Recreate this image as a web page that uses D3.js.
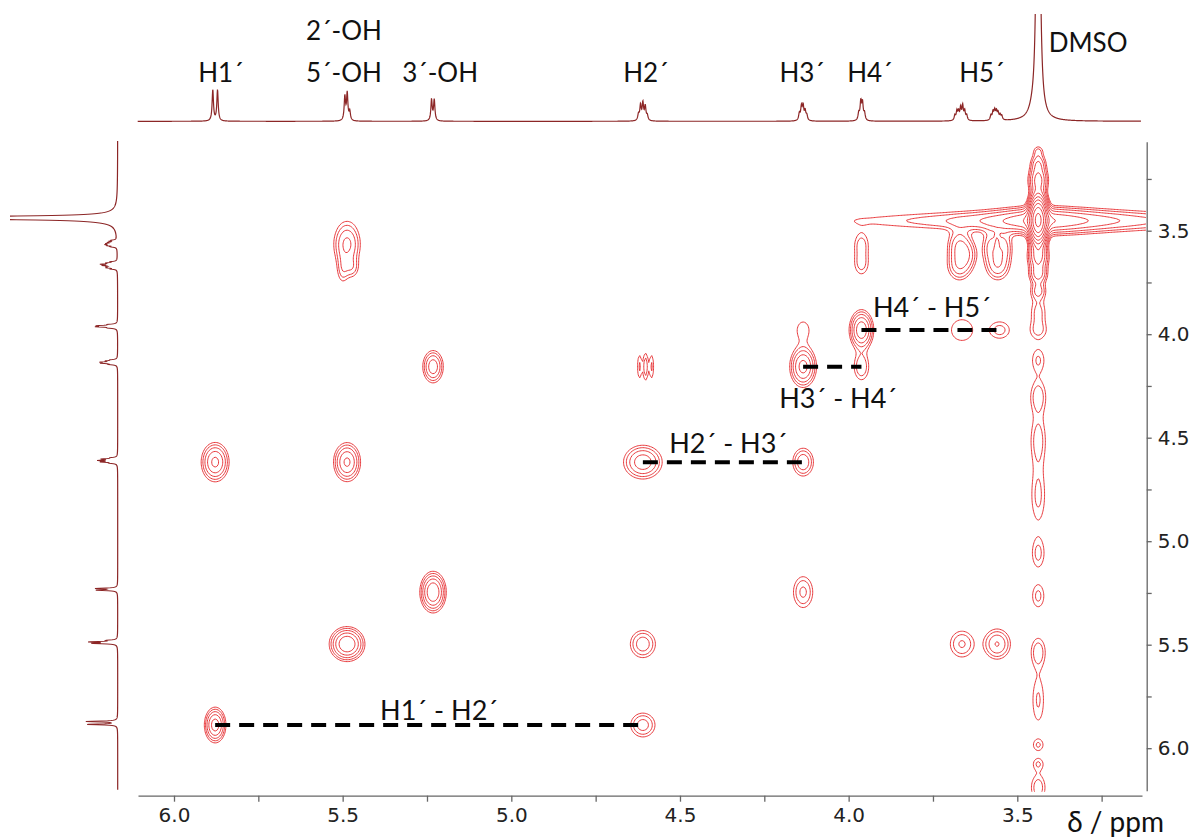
<!DOCTYPE html>
<html><head><meta charset="utf-8">
<script src="https://cdn.jsdelivr.net/npm/d3@7"></script>
<style>body{margin:0;background:#fff}svg{display:block}</style>
</head><body>
<svg id="c" width="1195" height="839"></svg>
<script>
// ---------------- DATA ----------------
const xMajor = [6.0, 5.5, 5.0, 4.5, 4.0, 3.5];
const xMinor = [5.75, 5.25, 4.75, 4.25, 3.75, 3.25];
const yMajor = [3.5, 4.0, 4.5, 5.0, 5.5, 6.0];
const yMinor = [3.25, 3.75, 4.25, 4.75, 5.25, 5.75];
const axisTitle = "δ / ppm";

// 1D spectrum lines: shift (ppm), height (relative), half-width (ppm)
const lineShift = [5.885, 5.871,
  5.4935, 5.4865, 5.479,
  5.2365, 5.2285,
  4.623, 4.617, 4.610, 4.603, 4.597,
  4.146, 4.140, 4.135, 4.129, 4.124,
  3.970, 3.964, 3.959, 3.953,
  3.685, 3.679, 3.674, 3.668, 3.662, 3.656, 3.650,
  3.578, 3.572, 3.567, 3.562, 3.557, 3.551, 3.546,
  3.438, 3.455];
const lineHeight = [31, 31,
  24, 27, 9,
  21, 21,
  6, 15, 17, 14, 5,
  7, 13, 14, 9, 5,
  7, 18, 17, 7,
  5, 9, 8, 12, 14, 9, 5,
  5, 8, 9, 8, 7, 5, 4,
  800, 5];
const lineWidth = [0.0024, 0.0024,
  0.0024, 0.0024, 0.0024,
  0.0024, 0.0024,
  0.0025, 0.0025, 0.0025, 0.0025, 0.0025,
  0.0025, 0.0025, 0.0025, 0.0025, 0.0025,
  0.0025, 0.0025, 0.0025, 0.0025,
  0.0024, 0.0024, 0.0024, 0.0024, 0.0024, 0.0024, 0.0024,
  0.0024, 0.0024, 0.0024, 0.0024, 0.0024, 0.0024, 0.0024,
  0.0034, 0.012];

// 1D peak labels
const peakLabel = ["H1´", "5´-OH", "2´-OH", "3´-OH", "H2´", "H3´", "H4´", "H5´", "DMSO"];
const peakLabelPpm = [5.861, 5.496, 5.496, 5.211, 4.601, 4.138, 3.937, 3.605, 3.290];
const peakLabelRow = [0, 0, 1, 0, 0, 0, 0, 0, 2];

// 2D cross peaks: F2 (ppm), F1 (ppm), intensity, width F2, width F1 (ppm), doublet splitting (ppm)
const crossX = [5.878, 4.610, 5.487, 4.610, 3.664, 3.560, 5.232, 4.135, 5.878, 5.487, 4.610, 4.135,
  5.232, 4.620, 4.602, 4.584, 4.135, 3.962, 4.135, 3.962, 3.664, 3.552, 3.438,
  5.487, 5.500, 5.472, 3.962, 3.962, 3.672, 3.672, 3.645, 3.578, 3.540, 3.558, 3.560,
  3.438, 3.438, 3.438, 3.438, 3.438, 3.438, 3.438, 3.438, 3.438, 3.438, 3.438,
  3.438, 3.438, 3.438, 3.438, 3.438, 3.438, 3.438, 3.438];
const crossY = [5.888, 5.888, 5.497, 5.497, 5.497, 5.497, 5.246, 5.246, 4.618, 4.618, 4.618, 4.618,
  4.157, 4.157, 4.157, 4.157, 4.157, 4.157, 3.980, 3.980, 3.980, 3.980, 3.985,
  3.565, 3.690, 3.680, 3.565, 3.660, 3.575, 3.670, 3.615, 3.580, 3.580, 3.670, 3.550,
  3.448, 3.255, 3.175, 3.115, 3.625, 3.710, 3.790, 3.894, 4.125, 4.300, 4.510,
  4.780, 5.060, 5.265, 5.535, 5.767, 5.985, 6.075, 6.190];
const crossAmp = [7, 2.8, 8, 3.0, 2.4, 3.5, 8, 2.5, 6, 6, 4.5, 3.2,
  4.5, 1.6, 2.0, 1.6, 6, 2.2, 1.35, 7, 1.45, 1.8, 1.4,
  3.8, 1.6, 1.6, 1.8, 1.8, 3.5, 3.0, 2.0, 2.6, 2.6, 3.0, 1.5,
  60, 6, 3, 1.5, 6, 4, 2.5, 1.8, 1.6, 2.0, 1.9,
  1.7, 1.7, 1.7, 2.0, 1.6, 1.5, 1.5, 2.0];
const crossWx = [0.0150, 0.0250, 0.0250, 0.0250, 0.0260, 0.0250, 0.0185, 0.0210, 0.0210, 0.0200, 0.0330, 0.0200,
  0.0175, 0.0058, 0.0058, 0.0058, 0.0210, 0.0170, 0.0220, 0.0185, 0.0360, 0.0260, 0.0220,
  0.0240, 0.0120, 0.0140, 0.0170, 0.0170, 0.0210, 0.0220, 0.0170, 0.0170, 0.0170, 0.0220, 0.0044,
  0.0135, 0.0160, 0.0140, 0.0110, 0.0170, 0.0160, 0.0150, 0.0180, 0.0170, 0.0180, 0.0180,
  0.0180, 0.0160, 0.0160, 0.0170, 0.0160, 0.0140, 0.0140, 0.0170];
const crossWy = [0.045, 0.040, 0.042, 0.044, 0.047, 0.046, 0.050, 0.055, 0.051, 0.051, 0.047, 0.044,
  0.045, 0.055, 0.055, 0.055, 0.053, 0.050, 0.050, 0.050, 0.058, 0.036, 0.034,
  0.065, 0.048, 0.034, 0.044, 0.044, 0.050, 0.045, 0.045, 0.050, 0.050, 0.045, 0.029,
  0.060, 0.040, 0.030, 0.020, 0.040, 0.030, 0.028, 0.055, 0.050, 0.060, 0.090,
  0.110, 0.060, 0.050, 0.055, 0.100, 0.025, 0.025, 0.050];
const crossJ = [0.014, 0, 0.016, 0, 0, 0, 0.012, 0, 0.014, 0.016, 0, 0,
  0, 0, 0, 0, 0, 0, 0, 0, 0, 0, 0,
  0, 0, 0, 0, 0, 0, 0, 0, 0, 0, 0, 0,
  0, 0, 0, 0, 0, 0, 0, 0, 0, 0, 0,
  0, 0, 0, 0, 0, 0, 0, 0];

// solvent t1 ridge (horizontal): centre, intensity, left/right half-width (ppm), F1 width (ppm)
const ridgeX = [3.44, 3.44];
const ridgeY = [3.452, 3.452];
const ridgeAmp = [2.2, 6];
const ridgeGL = [0.40, 0.10];
const ridgeGR = [0.40, 0.16];
const ridgeWy = [0.029, 0.0386];

const levels = [1, 1.5, 2.25, 3.4, 5.1, 7.6, 11.4, 17, 25.6, 38, 57];

// COSY connectivities
const linkFrom = [5.878, 4.610, 4.135, 3.962];
const linkTo = [4.610, 4.135, 3.962, 3.552];
const linkY = [5.888, 4.618, 4.157, 3.980];
const linkLabel = ["H1´ - H2´", "H2´ - H3´", "H3´ - H4´", "H4´ - H5´"];
const linkLabelX = [5.389, 4.532, 4.206, 3.928];
const linkLabelY = [5.864, 4.572, 4.355, 3.915];

// ---------------- DRAW ----------------
const svg = d3.select("#c");
const x = d3.scaleLinear().domain([6.0, 3.5]).range([174, 1017.3]);
const y = d3.scaleLinear().domain([3.5, 6.0]).range([230.7, 748.2]);
const P = {l: 138, r: 1142, t: 141.7, b: 795.7};
const red = "#e8393c", dark = "#8c2626";

const defs = svg.append("defs");
defs.append("clipPath").attr("id", "plotclip").append("rect")
  .attr("x", P.l).attr("y", P.t).attr("width", P.r - P.l + 4).attr("height", P.b - P.t - 4);
defs.append("clipPath").attr("id", "topclip").append("rect")
  .attr("x", 0).attr("y", 14).attr("width", 1195).attr("height", 200);
defs.append("clipPath").attr("id", "leftclip").append("rect")
  .attr("x", 10).attr("y", 0).attr("width", 200).attr("height", 839);

// ---- contour field ----
const gs = 1.5, gx0 = 126, gy0 = 128;
const nx = Math.ceil((1156 - gx0) / gs), ny = Math.ceil((810 - gy0) / gs);
const vals = new Float64Array(nx * ny);
function addGauss(cx, cy, a, sx, sy) {
  const i0 = Math.max(0, Math.floor((cx - 4.5 * sx - gx0) / gs));
  const i1 = Math.min(nx - 1, Math.ceil((cx + 4.5 * sx - gx0) / gs));
  const j0 = Math.max(0, Math.floor((cy - 4.5 * sy - gy0) / gs));
  const j1 = Math.min(ny - 1, Math.ceil((cy + 4.5 * sy - gy0) / gs));
  for (let j = j0; j <= j1; j++) {
    const py = gy0 + (j + 0.5) * gs;
    const ey = ((py - cy) / sy) ** 2 / 2;
    for (let i = i0; i <= i1; i++) {
      const px = gx0 + (i + 0.5) * gs;
      vals[j * nx + i] += a * Math.exp(-(((px - cx) / sx) ** 2) / 2 - ey);
    }
  }
}
crossX.forEach((cx, k) => {
  const sx = Math.abs(x(cx + crossWx[k]) - x(cx));
  const sy = Math.abs(y(crossY[k] + crossWy[k]) - y(crossY[k]));
  const cy = y(crossY[k]);
  if (crossJ[k] > 0) {
    addGauss(x(cx + crossJ[k] / 2), cy, crossAmp[k] / 2, sx, sy);
    addGauss(x(cx - crossJ[k] / 2), cy, crossAmp[k] / 2, sx, sy);
  } else addGauss(x(cx), cy, crossAmp[k], sx, sy);
});
ridgeX.forEach((rx, k) => {
  const cx = x(rx), cy = y(ridgeY[k]);
  const gL = Math.abs(x(rx + ridgeGL[k]) - cx), gR = Math.abs(x(rx - ridgeGR[k]) - cx);
  const sy = Math.abs(y(ridgeY[k] + ridgeWy[k]) - cy);
  const j0 = Math.max(0, Math.floor((cy - 4.5 * sy - gy0) / gs));
  const j1 = Math.min(ny - 1, Math.ceil((cy + 4.5 * sy - gy0) / gs));
  for (let j = j0; j <= j1; j++) {
    const py = gy0 + (j + 0.5) * gs;
    const gy = Math.exp(-(((py - cy) / sy) ** 2) / 2);
    for (let i = 0; i < nx; i++) {
      const px = gx0 + (i + 0.5) * gs;
      const g = px < cx ? gL : gR;
      vals[j * nx + i] += ridgeAmp[k] * gy / (1 + ((px - cx) / g) ** 2);
    }
  }
});
const cont = d3.contours().size([nx, ny]).thresholds(levels)(Array.from(vals));
const cpath = d3.geoPath(d3.geoIdentity().scale(gs).translate([gx0, gy0]));
svg.append("g").attr("clip-path", "url(#plotclip)")
  .selectAll("path").data(cont).join("path")
  .attr("d", cpath).attr("fill", "none").attr("stroke", red).attr("stroke-width", 1)
  .attr("stroke-linejoin", "round");

// ---- 1D spectra ----
function spec(d) {
  let s = 0;
  for (let i = 0; i < lineShift.length; i++) {
    const u = (d - lineShift[i]) / lineWidth[i];
    s += lineHeight[i] / (1 + u * u);
  }
  return s;
}
const yTop = d3.scaleLinear().domain([0, 100]).range([121.3, 21.3]);
const xLeft = d3.scaleLinear().domain([0, 100]).range([117.7, 17.7]);
const topPts = d3.range(137.7, 1141, 0.25).map(px => [px, yTop(spec(x.invert(px)))]);
const leftPts = d3.range(141, 790, 0.25).map(py => [xLeft(spec(y.invert(py))), py]);
svg.append("path").attr("clip-path", "url(#topclip)").attr("d", d3.line()(topPts))
  .attr("fill", "none").attr("stroke", dark).attr("stroke-width", 1.2);
svg.append("path").attr("clip-path", "url(#leftclip)").attr("d", d3.line()(leftPts))
  .attr("fill", "none").attr("stroke", dark).attr("stroke-width", 1.2);

// ---- dashed COSY links ----
const lg = svg.append("g");
linkFrom.forEach((f, k) => {
  lg.append("line").attr("x1", x(f)).attr("x2", x(linkTo[k]))
    .attr("y1", y(linkY[k])).attr("y2", y(linkY[k]))
    .attr("stroke", "#000").attr("stroke-width", 4).attr("stroke-dasharray", "15 9");
  lg.append("text").attr("x", x(linkLabelX[k])).attr("y", y(linkLabelY[k]))
    .attr("font-family", "Lato").attr("font-size", 27).attr("fill", "#111")
    .text(linkLabel[k]);
});

// ---- peak labels ----
const rowBase = [82, 40, 52];
svg.append("g").selectAll("text").data(peakLabel).join("text")
  .attr("x", (d, i) => x(peakLabelPpm[i])).attr("y", (d, i) => rowBase[peakLabelRow[i]])
  .attr("text-anchor", "middle").attr("font-family", "Lato").attr("font-size", 26)
  .attr("fill", "#111").text(d => d);

// ---- axes ----
const xa = d3.scaleLinear().domain([x.invert(P.l), x.invert(P.r)]).range([P.l, P.r]);
const ya = d3.scaleLinear().domain([y.invert(P.t), y.invert(790.7)]).range([P.t, 790.7]);
const fmt = d3.format(".1f");
const gx = svg.append("g").attr("transform", `translate(0,${P.b})`)
  .call(d3.axisBottom(xa).tickValues(xMajor.concat(xMinor)).tickSize(6).tickSizeOuter(0).tickPadding(6)
    .tickFormat(d => xMajor.includes(d) ? fmt(d) : ""));
const gy = svg.append("g").attr("transform", `translate(1146.7,0)`)
  .call(d3.axisRight(ya).tickValues(yMajor.concat(yMinor)).tickSize(5).tickSizeOuter(0).tickPadding(6)
    .tickFormat(d => yMajor.includes(d) ? fmt(d) : ""));
[gx, gy].forEach(g => {
  g.select(".domain").attr("stroke", "#666").attr("stroke-width", 1.3);
  g.selectAll(".tick line").attr("stroke", "#666").attr("stroke-width", 1.3);
  g.selectAll("text").attr("font-family", "DejaVu Sans").attr("font-size", 20).attr("fill", "#222");
});
svg.append("text").attr("x", 1164).attr("y", 832).attr("text-anchor", "end")
  .attr("font-family", "Lato").attr("font-size", 28).attr("fill", "#111").text(axisTitle);
</script>
</body></html>
